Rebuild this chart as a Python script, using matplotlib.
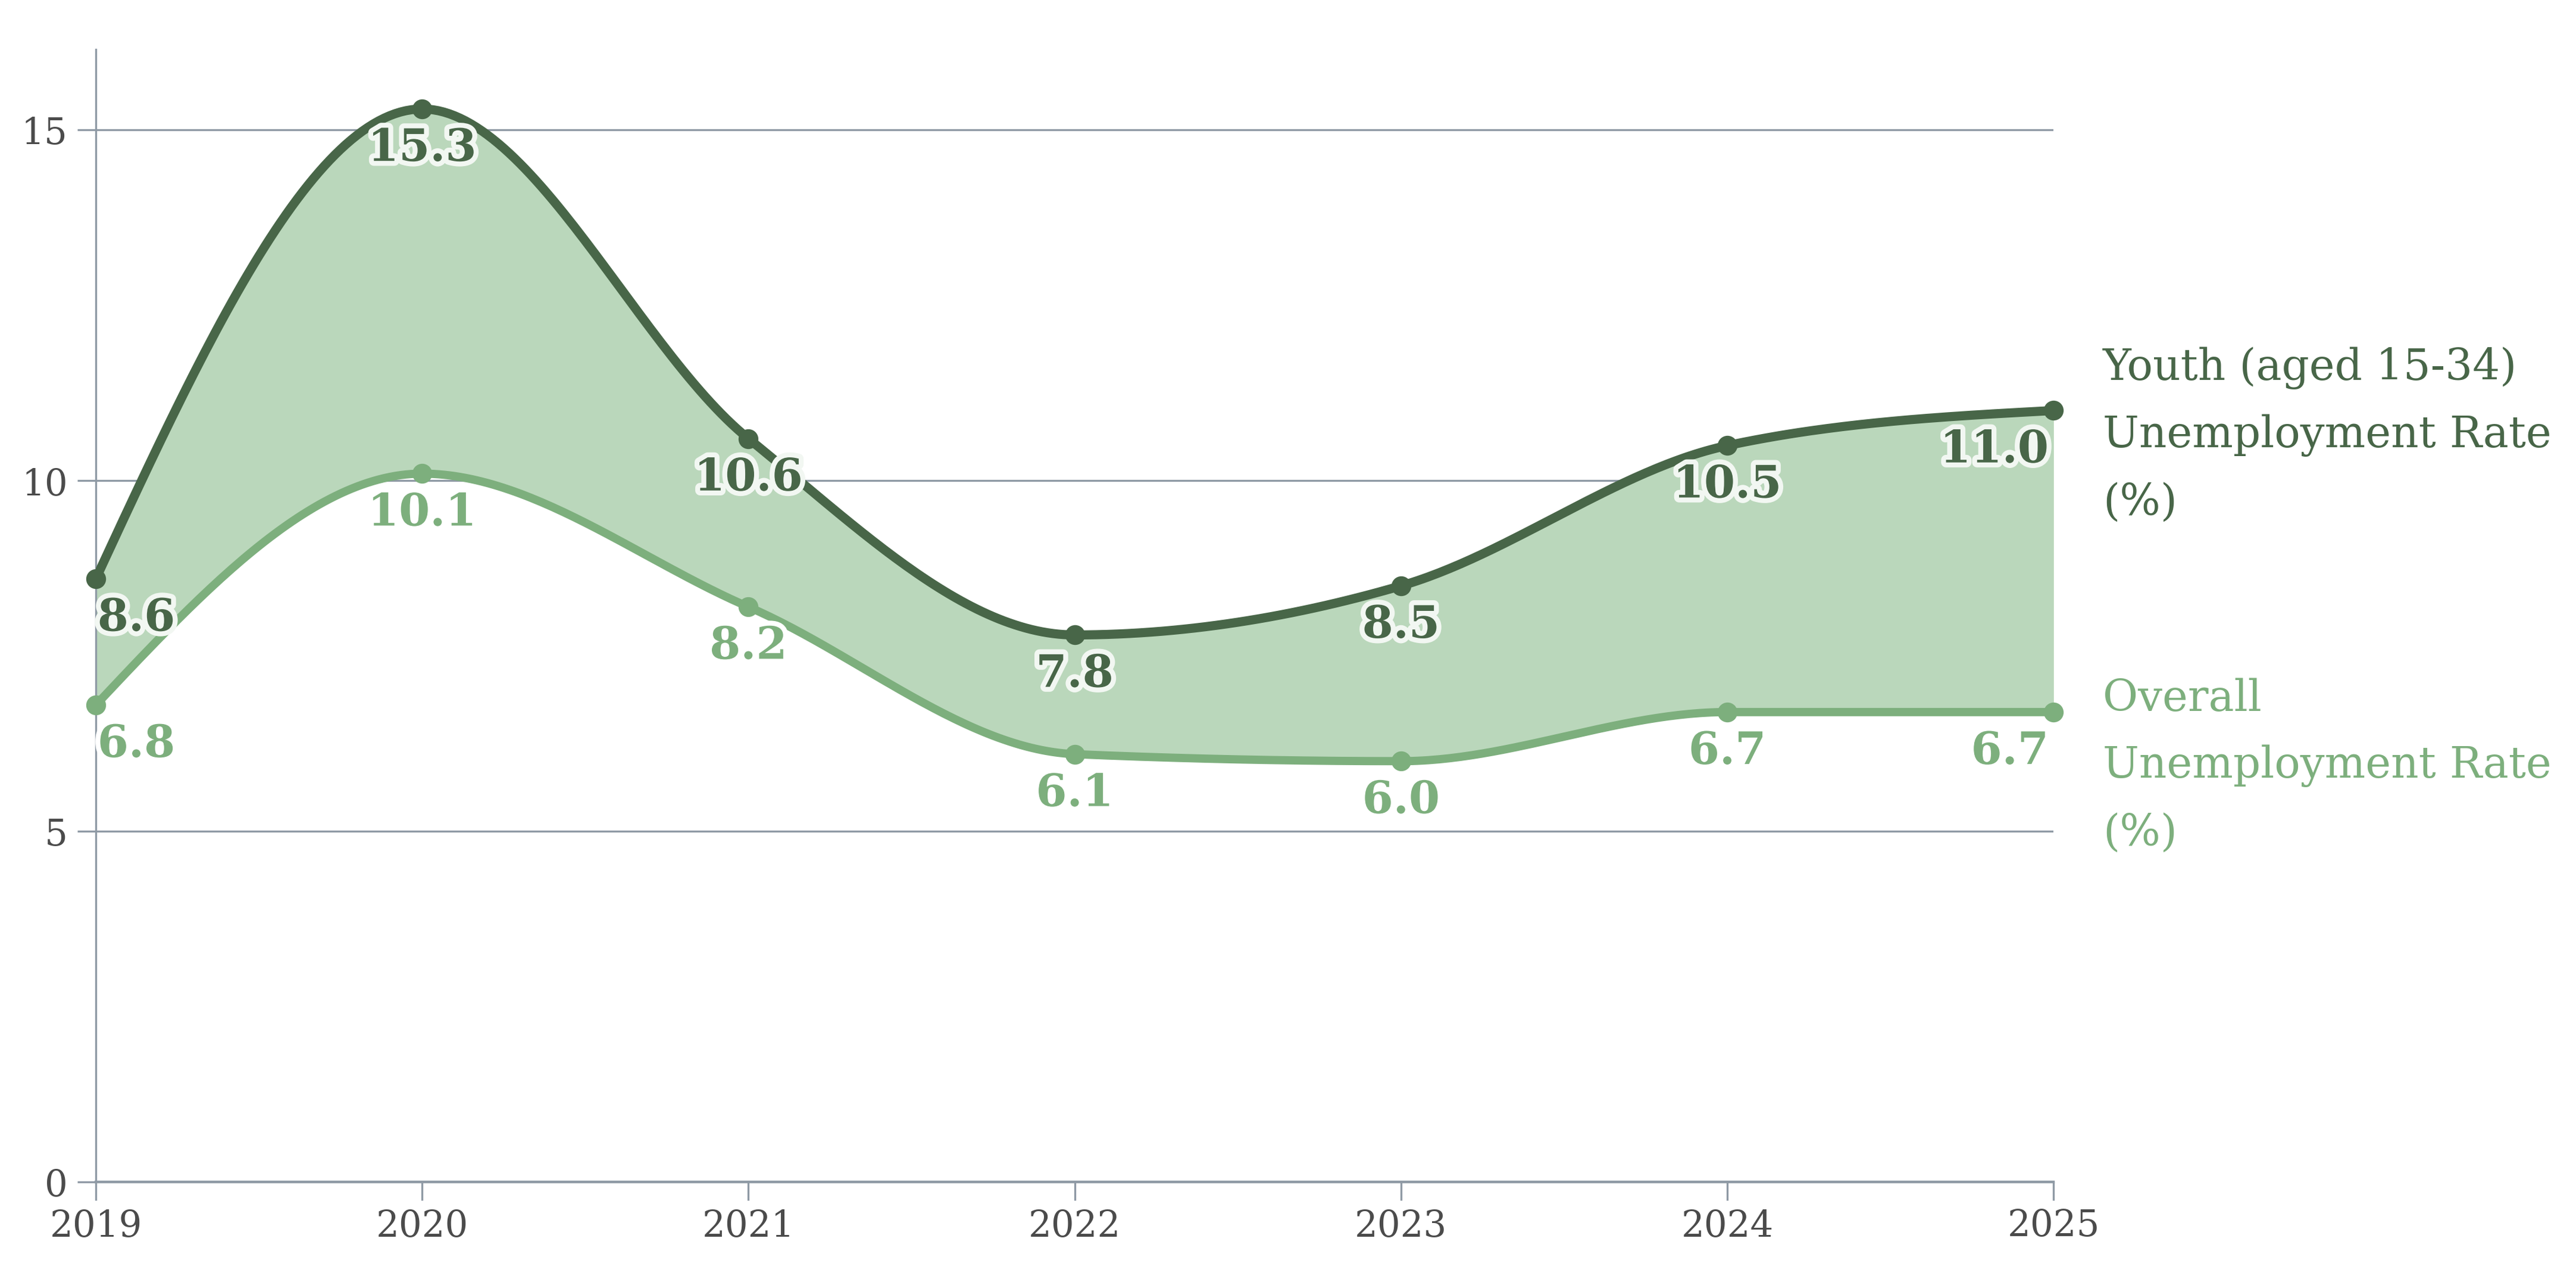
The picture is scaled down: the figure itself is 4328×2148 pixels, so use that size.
import numpy as np
import matplotlib
matplotlib.use("Agg")
from matplotlib import pyplot as plt
import matplotlib.patheffects as pe

years = [2019, 2020, 2021, 2022, 2023, 2024, 2025]
youth = [8.6, 15.3, 10.6, 7.8, 8.5, 10.5, 11.0]
overall = [6.8, 10.1, 8.2, 6.1, 6.0, 6.7, 6.7]
yticks = [0, 5, 10, 15]
youth_label = "Youth (aged 15-34)\nUnemployment Rate\n(%)"
overall_label = "Overall\nUnemployment Rate\n(%)"

dark = "#486648"
light = "#7daf7d"
fill_col = "#bad7bb"
grid_col = "#8f9aa5"
tick_col = "#4b4b4b"

plt.rcParams['font.family'] = ['DejaVu Serif']


def monotone(xs, ys, n=60):
    # same curve as d3.curveMonotoneX
    xs = np.asarray(xs, float)
    ys = np.asarray(ys, float)
    h = np.diff(xs)
    s = np.diff(ys) / h
    t = np.zeros(len(xs))
    for i in range(1, len(xs) - 1):
        p = (s[i - 1] * h[i] + s[i] * h[i - 1]) / (h[i - 1] + h[i])
        t[i] = (np.sign(s[i - 1]) + np.sign(s[i])) * min(abs(s[i - 1]), abs(s[i]), 0.5 * abs(p))
    t[0] = (3 * s[0] - t[1]) / 2
    t[-1] = (3 * s[-1] - t[-2]) / 2
    px, py = [], []
    for i in range(len(xs) - 1):
        u = np.linspace(0, 1, n, endpoint=(i == len(xs) - 2))
        x0, x1 = xs[i], xs[i + 1]
        y0, y1 = ys[i], ys[i + 1]
        c0 = y0 + h[i] * t[i] / 3
        c1 = y1 - h[i] * t[i + 1] / 3
        xa, xb = x0 + h[i] / 3, x1 - h[i] / 3
        bx = (1 - u) ** 3 * x0 + 3 * (1 - u) ** 2 * u * xa + 3 * (1 - u) * u ** 2 * xb + u ** 3 * x1
        by = (1 - u) ** 3 * y0 + 3 * (1 - u) ** 2 * u * c0 + 3 * (1 - u) * u ** 2 * c1 + u ** 3 * y1
        px.extend(bx)
        py.extend(by)
    return np.array(px), np.array(py)


fig = plt.figure(figsize=(21.64, 10.74), dpi=200)
ax = fig.add_axes([0.0372, 0.0759, 0.7600, 0.8855])

yx, yy = monotone(years, youth)
ox, oy = monotone(years, overall)

ax.fill_between(yx, oy, yy, color=fill_col, lw=0, zorder=2)
ax.plot(ox, oy, color=light, lw=5, zorder=3, solid_capstyle='round')
ax.plot(yx, yy, color=dark, lw=5.5, zorder=4, solid_capstyle='round')
ax.plot(years, overall, 'o', color=light, ms=11, zorder=5, clip_on=False)
ax.plot(years, youth, 'o', color=dark, ms=11, zorder=6, clip_on=False)

for i, yr in enumerate(years):
    ha = 'center'
    dx = 0
    if i == 0:
        ha, dx = 'left', 1
    elif i == len(years) - 1:
        ha, dx = 'right', -3
    ax.annotate(f"{youth[i]:.1f}", (yr, youth[i]), xytext=(dx, -24), textcoords='offset points',
                ha=ha, va='center', fontsize=27, fontweight='bold', color=dark, zorder=8,
                path_effects=[pe.withStroke(linewidth=6, foreground="#f2f7f2")])
    ax.annotate(f"{overall[i]:.1f}", (yr, overall[i]), xytext=(dx, -24), textcoords='offset points',
                ha=ha, va='center', fontsize=27, fontweight='bold', color=light, zorder=7,
                path_effects=[pe.withStroke(linewidth=6, foreground="white")])

ax.text(2025.151, 10.65, youth_label, color=dark, fontsize=26, ha='left', va='center',
        linespacing=1.75, clip_on=False)
ax.text(2025.151, 5.93, overall_label, color=light, fontsize=26, ha='left', va='center',
        linespacing=1.75, clip_on=False)

ax.set_xlim(2019, 2025)
ax.set_ylim(0, 16.15)
ax.set_xticks(years)
ax.set_yticks(yticks)
ax.grid(axis='y', color=grid_col, lw=1.2, zorder=1)
ax.set_axisbelow(True)
for side in ['top', 'right']:
    ax.spines[side].set_visible(False)
ax.spines['left'].set_color(grid_col)
ax.spines['left'].set_linewidth(1.2)
ax.spines['bottom'].set_color(grid_col)
ax.spines['bottom'].set_linewidth(1.6)
ax.tick_params(axis='x', length=11, width=1.2, color=grid_col, labelsize=22, labelcolor=tick_col, pad=5)
ax.tick_params(axis='y', length=11, width=1.2, color=grid_col, labelsize=22, labelcolor=tick_col, pad=6)

plt.savefig('out.png', dpi=200)
